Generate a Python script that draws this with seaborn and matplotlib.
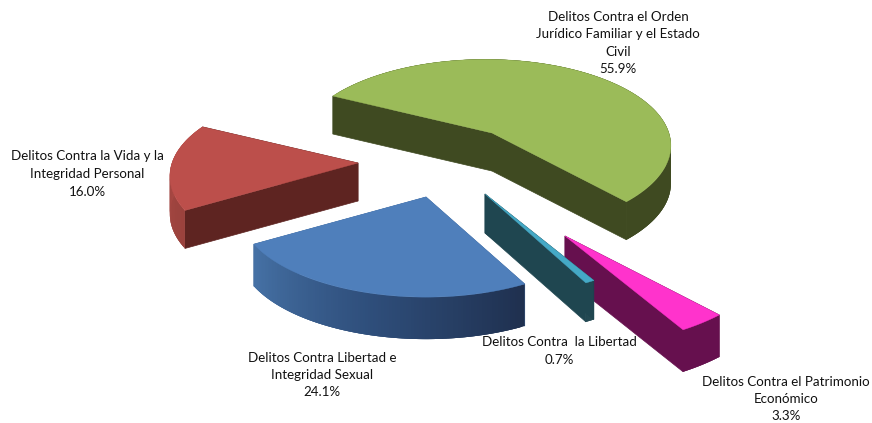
import numpy as np
import matplotlib
matplotlib.use('Agg')
import matplotlib.pyplot as plt
import seaborn as sns

# shares in chart order, clockwise from the green slice
categories = ['Delitos Contra el Orden\nJurídico Familiar y el Estado\nCivil',
              'Delitos Contra el Patrimonio\nEconómico',
              'Delitos Contra  la Libertad',
              'Delitos Contra Libertad e\nIntegridad Sexual',
              'Delitos Contra la Vida y la\nIntegridad Personal']
shares = [55.9, 3.3, 0.7, 24.1, 16.0]
top_colors = ['#9BBB59', '#FF33CC', '#45A9C6', '#4F7FBB', '#BC4F4B']
cut_colors = ['#3F4A21', '#66104E', '#1F4650', '#3F6A9F', '#5E2421']
arc_colors = [['#3F4A21', '#3F4A21'], ['#66104E', '#66104E'], ['#1F4650', '#1F4650'],
              ['#1F304F', '#2F4F7C', '#4672A6'], ['#9A423D', '#B24C47']]

# slice placement on the picture
apex_x = [492, 565, 485, 426, 358]
apex_y = [133, 236, 194, 197, 163]
radius = [184, 205, 189, 185, 186]
skew = [0.04, 0, 0, 0, 0]
depth = [38, 42, 39, 42, 38]
label_x = [618, 786, 559, 322, 87]
label_y = [43, 399, 351, 375, 174]

start_angle = 153.2
squash = 0.46
persp = 0.15


def project(i, angle):
    a = np.radians(angle)
    s = 1 / (1 + persp * np.sin(a) + skew[i] * np.cos(a))
    return apex_x[i] + radius[i] * s * np.cos(a), apex_y[i] - radius[i] * squash * s * np.sin(a)


def draw_slice(ax, i, a1, a2):
    angles = np.linspace(a1, a2, 120)
    xs, ys = project(i, angles)
    d = depth[i]
    # cut faces from the centre to both ends of the arc
    for k in (0, -1):
        ax.fill([apex_x[i], xs[k], xs[k], apex_x[i]],
                [apex_y[i], ys[k], ys[k] + d, apex_y[i] + d],
                color=cut_colors[i], lw=0.5)
    # outer wall, in small strips so it can shade along the arc
    pal = sns.blend_palette(arc_colors[i], len(angles) - 1)
    for k in range(len(angles) - 1):
        # each strip runs under the next one, this hides the seams
        j = min(k + 3, len(angles) - 1)
        ax.fill(np.r_[xs[k:j + 1], xs[k:j + 1][::-1]],
                np.r_[ys[k:j + 1], ys[k:j + 1][::-1] + d],
                color=pal[k], lw=0)
    ax.fill(np.r_[apex_x[i], xs], np.r_[apex_y[i], ys], color=top_colors[i], lw=0.3)


sns.set_theme(style='white')
plt.rcParams['font.family'] = ['Lato', 'DejaVu Sans']

fig, ax = plt.subplots(figsize=(8.72, 4.23), dpi=100)
fig.subplots_adjust(0, 0, 1, 1)
ax.set_xlim(0, 872)
ax.set_ylim(423, 0)
ax.axis('off')

edges = start_angle - np.cumsum([0] + [v * 3.6 for v in shares])
# back to front
for i in [0, 4, 1, 2, 3]:
    draw_slice(ax, i, edges[i], edges[i + 1])

for i in range(len(shares)):
    ax.text(label_x[i], label_y[i], f'{categories[i]}\n{shares[i]:.1f}%', ha='center', va='center',
            fontsize=9.6, color='#111111', linespacing=1.55)

fig.savefig('out.png', dpi=100)
